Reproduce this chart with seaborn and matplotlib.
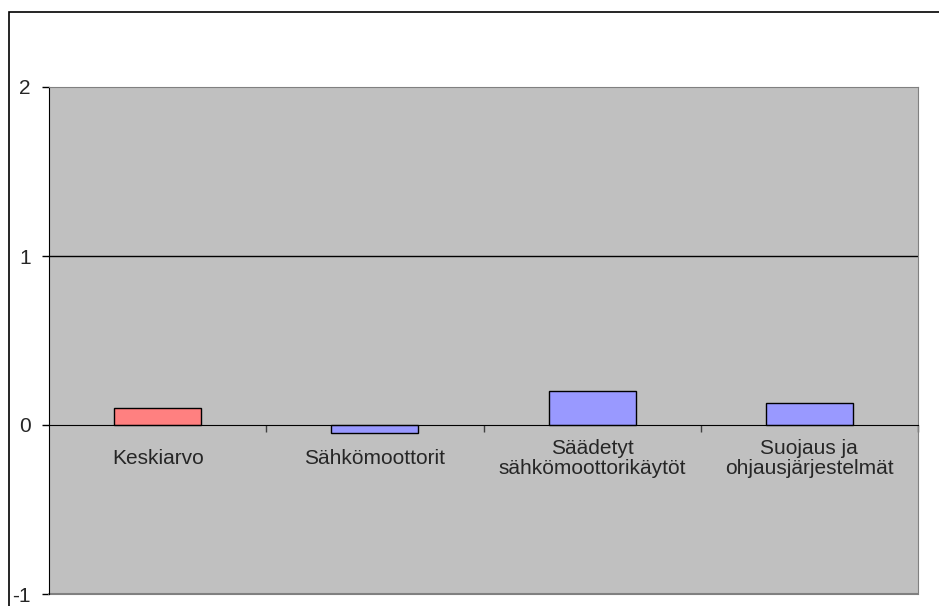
import matplotlib
matplotlib.use("Agg")
import matplotlib.pyplot as plt
import seaborn as sns
import pandas as pd
from matplotlib.patches import Rectangle

categories = ["Keskiarvo", "Sähkömoottorit", "Säädetyt\nsähkömoottorikäytöt", "Suojaus ja\nohjausjärjestelmät"]
values = [0.10, -0.05, 0.20, 0.13]
bar_colors = ["#FF8080", "#9999FF", "#9999FF", "#9999FF"]
y_ticks = [-1, 0, 1, 2]

sns.set_style("white")
plt.rcParams["font.family"] = ["Liberation Sans", "DejaVu Sans"]
plt.rcParams["font.size"] = 15

df = pd.DataFrame({"category": categories, "value": values})

fig = plt.figure(figsize=(9.39, 6.06), dpi=100)
ax = fig.add_axes([49 / 939, 1 - 594 / 606, (918 - 49) / 939, (594 - 87) / 606])
ax.set_facecolor("#C0C0C0")

sns.barplot(data=df, x="category", y="value", hue="category", palette=bar_colors, saturation=1,
            width=0.4, edgecolor="black", linewidth=1.0, legend=False, ax=ax, zorder=3)

ax.set_xlim(-0.5, len(categories) - 0.5)
ax.set_ylim(-1, 2)
ax.set_yticks(y_ticks)
ax.set_yticklabels([str(t) for t in y_ticks], fontsize=15)
ax.tick_params(axis="y", direction="out", length=5, width=1, color="black", pad=8, left=True)

# category axis crosses at zero
ax.spines["bottom"].set_position(("data", 0))
ax.spines["bottom"].set_color("black")
ax.spines["bottom"].set_zorder(4)
ax.spines["left"].set_color("black")
for side in ["top", "right"]:
    ax.spines[side].set_color("#808080")
ax.axhline(1, color="black", lw=1, zorder=1)
ax.axhline(-1, color="#808080", lw=1.5, zorder=1, clip_on=False)

ax.set_xticks(range(len(categories)))
ax.set_xticklabels(categories, fontsize=15)
ax.set_xticks([i + 0.5 for i in range(len(categories))], minor=True)
ax.tick_params(axis="x", which="major", length=0, pad=24, bottom=True)
ax.tick_params(axis="x", which="minor", direction="out", length=5, width=1, color="#404040", bottom=True)
plt.setp(ax.get_xticklabels(), va="center", ha="center", multialignment="center", linespacing=1.1)

ax.set_xlabel("")
ax.set_ylabel("")

fig.patches.append(Rectangle((9 / 939, -0.05), 1.0, 1.05 - 12 / 606, transform=fig.transFigure,
                             fill=False, edgecolor="black", linewidth=1.2))

fig.savefig("out.png", dpi=100, facecolor="white")
